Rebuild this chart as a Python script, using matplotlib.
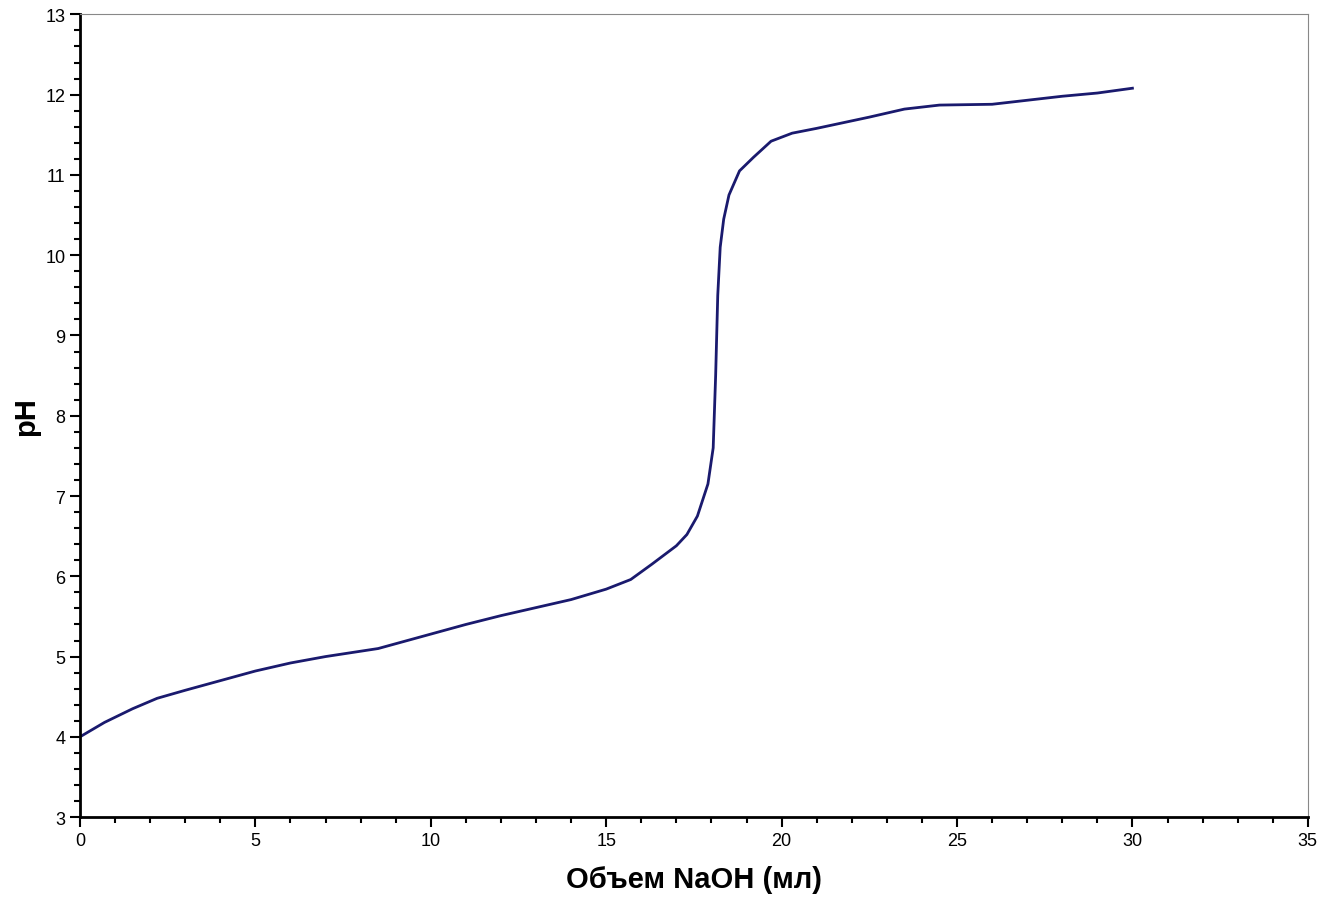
import matplotlib
matplotlib.use('Agg')
import matplotlib.pyplot as plt
from matplotlib.ticker import MultipleLocator

volume = [0, 0.7, 1.5, 2.2, 3, 4, 5, 6, 7, 8.5, 10, 11, 12, 13, 14, 15, 15.7, 16.3, 17, 17.3, 17.6, 17.9, 18.05, 18.12, 18.18, 18.25, 18.35, 18.5, 18.8, 19.2, 19.7, 20.3, 21, 22.5, 23.5, 24.5, 26, 27, 28, 29, 30]
ph = [4.0, 4.18, 4.35, 4.48, 4.58, 4.7, 4.82, 4.92, 5.0, 5.1, 5.28, 5.4, 5.51, 5.61, 5.71, 5.84, 5.96, 6.15, 6.38, 6.52, 6.75, 7.15, 7.6, 8.5, 9.5, 10.1, 10.45, 10.75, 11.05, 11.22, 11.42, 11.52, 11.58, 11.72, 11.82, 11.87, 11.88, 11.93, 11.98, 12.02, 12.08]

fig = plt.figure(figsize=(13.26, 9.04), dpi=100)
ax = fig.add_axes([0.0603, 0.095, 0.926, 0.888])
ax.plot(volume, ph, color='#1a1a6e', lw=2)
ax.set_xlim(0, 35)
ax.set_ylim(3, 13)
ax.xaxis.set_major_locator(MultipleLocator(5))
ax.xaxis.set_minor_locator(MultipleLocator(1))
ax.yaxis.set_major_locator(MultipleLocator(1))
ax.yaxis.set_minor_locator(MultipleLocator(0.2))
ax.tick_params(which='major', length=7, width=1.5, labelsize=13)
ax.tick_params(which='minor', length=4, width=1.5)
ax.spines['left'].set_linewidth(2)
ax.spines['bottom'].set_linewidth(2)
ax.spines['top'].set_color('#888888')
ax.spines['right'].set_color('#888888')
ax.set_xlabel('Объем NaOH (мл)', fontsize=21, fontweight='bold', family='Liberation Sans', labelpad=12)
ax.set_ylabel('pH', fontsize=21, fontweight='bold', family='Liberation Sans', labelpad=4)
for l in ax.get_xticklabels() + ax.get_yticklabels():
    l.set_family('Liberation Sans')
fig.savefig('out.png')
